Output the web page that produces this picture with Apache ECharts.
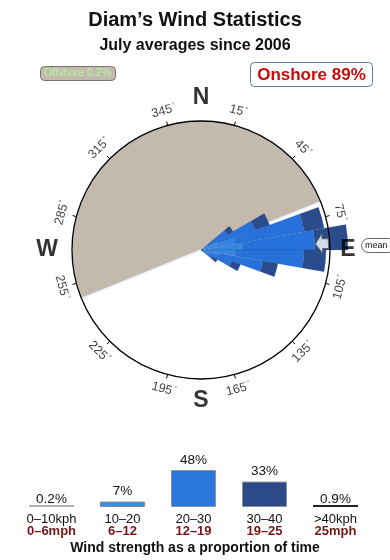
<!DOCTYPE html>
<html>
<head>
<meta charset="utf-8">
<script src="https://cdn.jsdelivr.net/npm/echarts@6/dist/echarts.min.js"></script>
<style>
html,body{margin:0;padding:0;background:#fff;}
#chart{width:390px;height:560px;}
</style>
</head>
<body>
<div id="chart"></div>
<script>
// ---------- data ----------
const titleText = 'Diam\u2019s Wind Statistics';
const subtitleText = 'July averages since 2006';
const offshorePct = '0.2%';
const onshorePct = '89%';
// offshore sector (bearing, clockwise from-to)
const offshoreFrom = 248;
const offshoreTo = 68;
const meanDirection = 87;

// direction bins (10 degrees each, category = bin centre)
const angleCats = ['5','15','25','35','45','55','65','75','85','95','105','115','125','135','145','155','165','175',
  '185','195','205','215','225','235','245','255','265','275','285','295','305','315','325','335','345','355'];
const petalDirs = ['55','65','75','85','95','105','115','125'];
// relative frequency per speed band (stacked outward)
const rose0_10  = [0.3, 0.5, 1, 2, 1, 0.5, 0.3, 0.2];
const rose10_20 = [7.7, 17.5, 34, 40, 34, 17.5, 8.7, 4.8];
const rose20_30 = [23, 40, 70, 72, 68, 45, 24, 8];
const rose30_40 = [6, 15, 20, 33, 22, 15, 9, 6];

const degTicks = [15, 45, 75, 105, 135, 165, 195, 225, 255, 285, 315, 345];
const compassLabels = ['N', 'E', 'S', 'W'];
const compassAngles = [0, 90, 180, 270];

// speed band summary
const kphBands = ['0\u201310kph', '10\u201320', '20\u201330', '30\u201340', '>40kph'];
const mphBands = ['0\u20136mph', '6\u201312', '12\u201319', '19\u201325', '25mph'];
const bandPct = [0.2, 7, 48, 33, 0.9];
const bottomTitle = 'Wind strength as a proportion of time';

// ---------- styles ----------
const FONT = '"Liberation Sans", Arial, Helvetica, sans-serif';
const C = [201, 250];
const compassRadius = [152, 147, 151, 154];
const bandColors = ['#45bdf0', '#3787e2', '#2672da', '#2a4b8c'];
const sumColors = ['#b5b5b5', '#3b8fe0', '#2a76dc', '#2c4a88', '#222222'];
const sumBorders = ['#b5b5b5', '#7a8a9a', '#8a949e', '#8a949e', '#222222'];

function fullArr(vals) {
  return angleCats.map(c => { const i = petalDirs.indexOf(c); return i < 0 ? null : vals[i]; });
}
function tangentRotate(a) {
  if (a > 90 && a < 270) return 180 - a;
  return a >= 270 ? 360 - a : -a;
}

const roseSeries = [rose0_10, rose10_20, rose20_30, rose30_40].map((arr, k) => ({
  type: 'bar', coordinateSystem: 'polar', polarIndex: 0, stack: 'rose',
  data: fullArr(arr), barCategoryGap: '0%', z: 5, silent: true, clip: false,
  itemStyle: { color: bandColors[k], borderColor: 'rgba(20,55,120,0.25)', borderWidth: 0.5 }
}));

const chart = echarts.init(document.getElementById('chart'), null, { renderer: 'canvas' });
chart.setOption({
  animation: false,
  backgroundColor: '#fff',
  textStyle: { fontFamily: FONT },
  title: [
    { text: titleText, left: 'center', top: 5, textStyle: { fontFamily: FONT, fontSize: 20, fontWeight: 'bold', color: '#111' } },
    { text: subtitleText, left: 'center', top: 33, textStyle: { fontFamily: FONT, fontSize: 16, fontWeight: 'bold', color: '#111' } },
    { text: bottomTitle, left: 'center', top: 536, textStyle: { fontFamily: FONT, fontSize: 14, fontWeight: 'bold', color: '#111' } }
  ],
  polar: [
    { center: C, radius: 150 },
    { center: C, radius: 129 },
    { center: C, radius: 160 }
  ],
  angleAxis: [
    { polarIndex: 0, type: 'category', data: angleCats, startAngle: 90, clockwise: true,
      axisLine: { show: false }, axisTick: { show: false }, axisLabel: { show: false }, splitLine: { show: false } },
    { polarIndex: 1, type: 'value', min: -15, max: 345, interval: 30, startAngle: 105, clockwise: true, z: 10,
      axisLine: { show: true, lineStyle: { color: '#000', width: 1.3 } },
      axisTick: { show: true, length: 4, lineStyle: { color: '#000', width: 1 } },
      axisLabel: { show: false }, splitLine: { show: false } },
    { polarIndex: 2, type: 'value', min: 0, max: 360, startAngle: 90, clockwise: true,
      axisLine: { show: false }, axisTick: { show: false }, axisLabel: { show: false }, splitLine: { show: false } }
  ],
  radiusAxis: [
    { polarIndex: 0, type: 'value', min: 0, max: 150, show: false },
    { polarIndex: 1, type: 'value', min: 0, max: 129, show: false },
    { polarIndex: 2, type: 'value', min: 0, max: 160, show: false }
  ],
  grid: { left: 16, right: 19, top: 470, bottom: 53 },
  xAxis: {
    type: 'category', data: kphBands,
    axisLine: { show: false }, axisTick: { show: false },
    axisLabel: {
      margin: 6, interval: 0,
      formatter: (v, i) => '{k|' + v + '}\n{m|' + mphBands[i] + '}',
      rich: {
        k: { fontFamily: FONT, fontSize: 13, color: '#111', lineHeight: 12 },
        m: { fontFamily: FONT, fontSize: 13, fontWeight: 'bold', color: '#7a1515', lineHeight: 12 }
      }
    }
  },
  yAxis: { type: 'value', min: 0, max: 48, show: false },
  series: [
    { type: 'pie', center: C, radius: [0, 129], startAngle: 90 - offshoreFrom + 360, clockwise: true,
      z: 1, silent: true, label: { show: false }, labelLine: { show: false }, emphasis: { disabled: true },
      data: [
        { value: (offshoreTo - offshoreFrom + 360) % 360, itemStyle: { color: '#c4b9ad', borderColor: '#e6efff', borderWidth: 1.5 } },
        { value: 360 - (offshoreTo - offshoreFrom + 360) % 360, itemStyle: { color: 'rgba(0,0,0,0)', borderWidth: 0 } }
      ] },
    ...roseSeries,
    { type: 'scatter', coordinateSystem: 'polar', polarIndex: 2, symbolSize: 0, z: 11, silent: true, clip: false,
      data: degTicks.map(a => ({ value: [144, a], label: { rotate: tangentRotate(a), formatter: '{n|' + a + '}{d|\u00b0}' } })),
      label: { show: true, position: 'inside', align: 'center', verticalAlign: 'middle',
        rich: { n: { fontFamily: FONT, fontSize: 12.5, color: '#111' }, d: { fontFamily: FONT, fontSize: 7, color: '#111', verticalAlign: 'top', padding: [0, 0, 6, 1] } } } },
    { type: 'scatter', coordinateSystem: 'polar', polarIndex: 2, symbolSize: 0, z: 11, silent: true, clip: false,
      data: compassLabels.map((t, i) => ({ value: [compassRadius[i], compassAngles[i]], name: t })),
      label: { show: true, position: 'inside', formatter: '{b}', fontFamily: FONT, fontSize: 23, fontWeight: 'bold', color: '#000' } },
    { type: 'scatter', coordinateSystem: 'polar', polarIndex: 2, z: 12, silent: true, clip: false,
      symbol: 'path://M0,10 L8,0 L8,5 L15,5 L15,15 L8,15 L8,20 Z', symbolSize: [13, 20], symbolRotate: 3,
      itemStyle: { color: '#ffffff', borderColor: '#555', borderWidth: 1 },
      data: [[121, meanDirection]] },
    { type: 'bar', xAxisIndex: 0, yAxisIndex: 0, barWidth: 45, barMinHeight: 2, silent: true,
      data: bandPct.map((v, i) => ({ value: v,
        itemStyle: { color: sumColors[i], borderColor: sumBorders[i], borderWidth: (i === 0 || i === 4) ? 0 : 1 },
        label: { distance: (i === 0 || i === 4) ? -1 : 3 } })),
      label: { show: true, position: 'top', formatter: '{c}%', fontFamily: FONT, fontSize: 13.5, color: '#111' } }
  ],
  graphic: [
    { type: 'rect', shape: { x: 40.5, y: 66.5, width: 75, height: 14, r: 4 }, style: { fill: '#c4b9ad', stroke: '#7d7468', lineWidth: 1 }, z: 20 },
    { type: 'text', x: 77.5, y: 73.5, style: { text: 'Offshore ' + offshorePct, fill: '#b4f5a4', font: '10.5px ' + FONT, align: 'center', verticalAlign: 'middle' }, z: 21 },
    { type: 'rect', shape: { x: 250.5, y: 62.5, width: 122, height: 24, r: 4 }, style: { fill: '#fff', stroke: '#5f7b98', lineWidth: 1 }, z: 20 },
    { type: 'text', x: 311.5, y: 75, style: { text: 'Onshore ' + onshorePct, fill: '#cc0a0a', font: 'bold 17px ' + FONT, align: 'center', verticalAlign: 'middle' }, z: 21 },
    { type: 'rect', shape: { x: 361.5, y: 238.5, width: 34, height: 14, r: 7 }, style: { fill: '#fff', stroke: '#666', lineWidth: 1 }, z: 20 },
    { type: 'text', x: 365, y: 245.5, style: { text: 'mean', fill: '#111', font: '9px ' + FONT, align: 'left', verticalAlign: 'middle' }, z: 21 }
  ]
});
</script>
</body>
</html>
